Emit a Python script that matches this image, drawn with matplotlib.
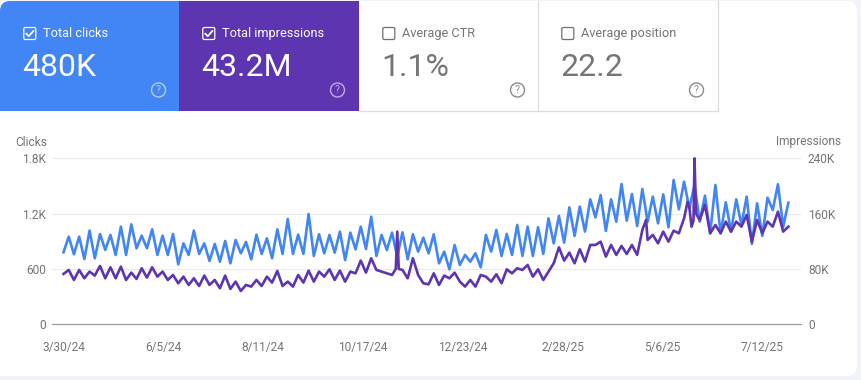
import numpy as np
import matplotlib
matplotlib.use("Agg")
import matplotlib.pyplot as plt
from matplotlib.patches import FancyBboxPatch, Rectangle, Circle

plt.rcParams['font.family'] = ['Roboto', 'DejaVu Sans']

# ---- data -------------------------------------------------------------
step_days = 3.5
clicks = [781,950,759,950,708,1016,716,979,806,969,752,1059,752,1084,824,961,824,1030,752,961,
          752,979,650,878,752,1016,763,878,687,871,679,903,661,914,770,893,705,972,763,932,
          716,1030,763,1142,763,972,763,1196,741,976,770,969,777,1005,697,994,813,1059,817,1167,
          741,969,806,994,734,997,705,976,788,940,770,976,661,788,596,860,643,752,679,770,
          618,969,788,1023,741,979,752,1077,741,1059,741,1052,763,1149,878,1175,885,1268,958,1276,
          1005,1355,1160,1402,1012,1355,1113,1521,1124,1413,1066,1467,1113,1384,1095,1409,1052,1565,1247,1547,
          1258,1511,1113,1395,987,1511,987,1323,1005,1355,1077,1384,871,1312,958,1373,1240,1518,1059,1319]
impressions_k = [72.8,78.6,64.1,78.6,66.5,76.2,70.4,84.4,66.5,82.4,66.5,83.4,64.1,74.7,65.6,81,67.5,82.4,68.9,76.2,
          64.1,71.3,59.3,68.9,56.9,66.5,55.4,70.4,56.9,64.1,52.1,70.4,51.1,61.7,48.2,56.9,54.5,64.1,55.4,68.9,
          60.3,77.1,55.4,61.7,54.5,71.3,60.3,77.6,61.7,76.2,68.9,79.5,64.1,77.6,61.7,76.2,73.7,92.1,74.7,95.4,
          78.6,76.2,73.7,71.3,134,78.6,66.5,95.4,71.3,59.3,57.8,73.7,56.9,70.4,66.5,74.7,61.7,54.5,64.1,54.5,
          71.3,68.9,61.7,72.3,59.3,79.5,73.7,81,78.6,85.8,68.9,79.5,64.1,76.2,88.2,111.3,92.1,103.6,88.2,108.5,
          90.6,114.7,114.7,119.5,97.8,114.7,100.3,113.3,101.7,114.7,100.3,136.4,121.9,129.2,117.1,134,119.5,135.4,131.6,153.3,
          170,240,150.9,172.6,131.6,143.6,131.6,148.5,134,148.5,141.2,158.1,119.5,150.9,131.6,148.5,141.2,162.9,134,141.2]
impressions_extra_days = [223, 225, 391, 418.8, 421.5, 422.8, 424.5]
impressions_extra_k = [80, 80, 150.9, 177, 141, 150, 160]

start_date = np.datetime64('2024-03-30')
tick_days = [0, 67, 134, 201, 268, 335, 402, 469]
tick_labels = ['3/30/24', '6/5/24', '8/11/24', '10/17/24', '12/23/24', '2/28/25', '5/6/25', '7/12/25']
left_ticks = [0, 600, 1200, 1800]
left_labels = ['0', '600', '1.2K', '1.8K']
right_ticks = [0, 80, 160, 240]
right_labels = ['0', '80K', '160K', '240K']
cards = [('Total clicks', '480K'), ('Total impressions', '43.2M'),
         ('Average CTR', '1.1%'), ('Average position', '22.2')]

# ---- colours ----------------------------------------------------------
BLUE = '#4285f4'
PURPLE = '#5e35b1'
GREY = '#757575'
W, H = 861, 380
fig = plt.figure(figsize=(W / 100, H / 100), dpi=100, facecolor='#f1f3f8')

# ---- page / cards (pixel coordinate layer) ----------------------------
ui = fig.add_axes([0, 0, 1, 1], zorder=0)
ui.set_xlim(0, W)
ui.set_ylim(H, 0)
ui.axis('off')
ui.add_patch(FancyBboxPatch((-20, 1), 877, 375, boxstyle='round,pad=0,rounding_size=10',
                            fc='white', ec='none'))
card_x = [0, 179, 359, 538]
ui.add_patch(FancyBboxPatch((0, 1), 60, 109, boxstyle='round,pad=0,rounding_size=10',
                            fc=BLUE, ec='none'))
ui.add_patch(Rectangle((10, 1), 169, 109.5, fc=BLUE, ec='none'))
ui.add_patch(Rectangle((0, 11), 20, 99.5, fc=BLUE, ec='none'))
ui.add_patch(Rectangle((179, 1), 180, 109.5, fc=PURPLE, ec='none'))
ui.plot([359, 718], [110.5, 110.5], color='#dadce0', lw=0.9)
ui.plot([538, 538], [1, 110.5], color='#dadce0', lw=0.9)
ui.plot([718, 718], [1, 110.5], color='#dadce0', lw=0.9)

for i, (title, value) in enumerate(cards):
    x0 = card_x[i]
    on = i < 2
    fg = 'white' if on else GREY
    bx = x0 + 23.8
    ui.add_patch(FancyBboxPatch((bx, 27.5), 12, 12, boxstyle='round,pad=0,rounding_size=1.5',
                                fc='none', ec='white' if on else '#6f6f6f', lw=0.9))
    if on:
        ui.plot([bx + 2.6, bx + 5, bx + 9.6], [33.8, 36.2, 31], color='white', lw=1.3)
    ui.text(x0 + 42.7, 33.2, title, color=fg, fontsize=9.2, ha='left', va='center')
    ui.text(x0 + 22.6, 67.8, value, color=fg, fontsize=23, ha='left', va='center')
    ring = '#ffffff' if on else '#8a8a8a'
    ui.add_patch(Circle((x0 + 158.5, 90), 7, fc='none', ec=ring, lw=1.0, alpha=0.6 if on else 1))
    ui.text(x0 + 158.5, 90.2, '?', color=ring, alpha=0.6 if on else 1, fontsize=7.5,
            ha='center', va='center')

ui.text(15, 142, 'Clicks', color=GREY, fontsize=8.6, ha='left', va='center')
ui.text(841, 142, 'Impressions', color=GREY, fontsize=8.6, ha='right', va='center')

# ---- chart ------------------------------------------------------------
L, R, T, B = 52, 801, 158.3, 324.3
px_per_day = 1.49
x0_px = 63.5
ax = fig.add_axes([L / W, 1 - B / H, (R - L) / W, (B - T) / H], zorder=1)
ax.patch.set_alpha(0)
to_date = lambda d: start_date + (np.asarray(d, dtype=float) * 24 * 60).astype('timedelta64[m]')

days = np.arange(len(clicks)) * step_days
ax.plot(to_date(days), clicks, color=BLUE, lw=1.9, solid_joinstyle='round', zorder=3)
ax.set_ylim(0, 1800)
ax.set_xlim(to_date((L - x0_px) / px_per_day), to_date((R - x0_px) / px_per_day))
ax.set_xticks(to_date(tick_days))
ax.set_xticklabels(tick_labels)
ax.set_yticks(left_ticks)
ax.set_yticklabels(left_labels)
ax.grid(axis='y', color='#e8eaed', lw=0.8)
ax.set_axisbelow(True)
ax.tick_params(axis='x', length=0, pad=12, labelsize=8.6, labelcolor=GREY)
ax.tick_params(axis='y', length=0, pad=4.4, labelsize=8.6, labelcolor=GREY)
for s in ['top', 'left', 'right']:
    ax.spines[s].set_visible(False)
ax.spines['bottom'].set_color('#9aa0a6')
ax.spines['bottom'].set_linewidth(0.9)

ax2 = ax.twinx()
ax2.patch.set_alpha(0)
imp_days = np.concatenate([np.arange(len(impressions_k)) * step_days, impressions_extra_days])
imp_vals = np.concatenate([impressions_k, impressions_extra_k])
order = np.argsort(imp_days)
ax2.plot(to_date(imp_days[order]), imp_vals[order], color=PURPLE, lw=1.9,
         solid_joinstyle='round', zorder=3, clip_on=False)
ax2.set_ylim(0, 240)
ax2.set_yticks(right_ticks)
ax2.set_yticklabels(right_labels)
ax2.tick_params(axis='y', length=0, pad=5, labelsize=8.6, labelcolor=GREY)
for s in ax2.spines.values():
    s.set_visible(False)

fig.savefig('out.png', dpi=100, facecolor=fig.get_facecolor())
